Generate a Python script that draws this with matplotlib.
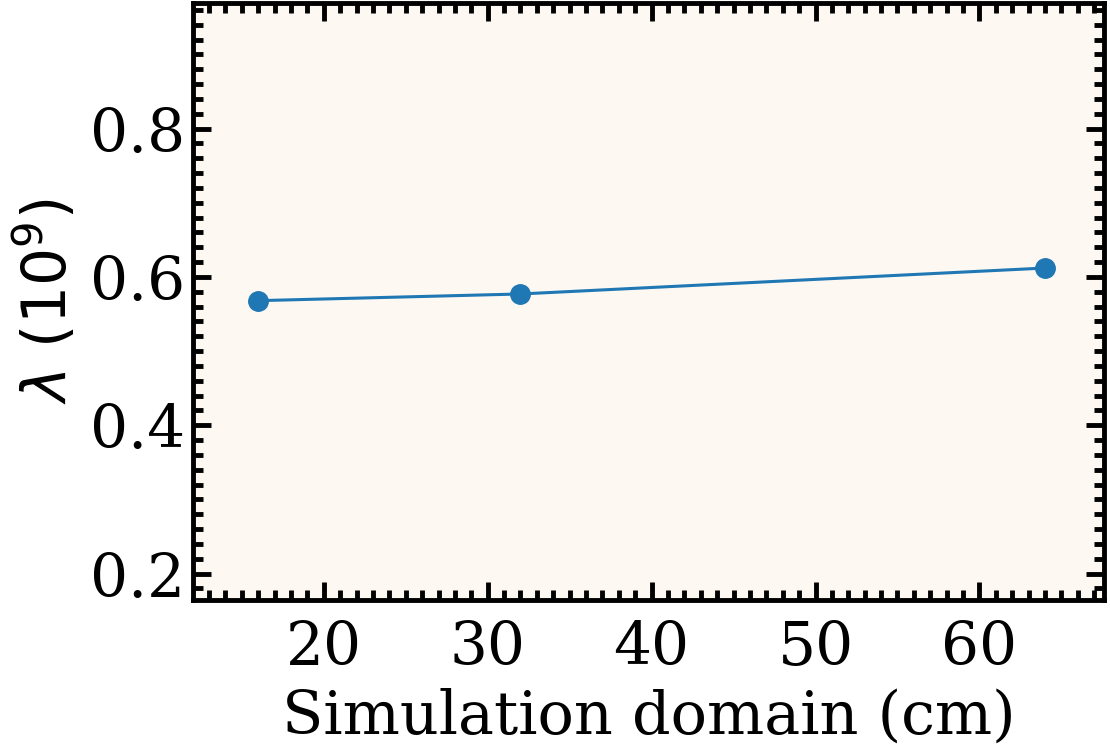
import matplotlib
matplotlib.use("Agg")
import matplotlib.pyplot as plt
from matplotlib.ticker import MultipleLocator

# simulation domain size (cm) and fitted lambda (1e9)
domain = [16, 32, 64]
lam = [0.568, 0.577, 0.612]

plt.rcParams['font.family'] = 'DejaVu Serif'
plt.rcParams['font.size'] = 43

fig = plt.figure(figsize=(11.1, 7.44), dpi=100)
ax = fig.add_axes([0.1743, 0.1942, 0.9946 - 0.1743, 0.9966 - 0.1942])
ax.set_facecolor('#fdf8f2')

ax.plot(domain, lam, '-o', color='#1f77b4', lw=2.2, markersize=14)

ax.set_xlim(12.05, 67.6)
ax.set_ylim(0.165, 0.97)
ax.xaxis.set_major_locator(MultipleLocator(10))
ax.xaxis.set_minor_locator(MultipleLocator(1))
ax.yaxis.set_major_locator(MultipleLocator(0.2))
ax.yaxis.set_minor_locator(MultipleLocator(0.02))

ax.tick_params(which='both', direction='in', top=True, right=True, width=3.5)
ax.tick_params(which='major', length=13)
ax.tick_params(which='minor', length=7)
ax.tick_params(axis='x', which='major', pad=14)
ax.tick_params(axis='y', which='major', pad=6)
for s in ax.spines.values():
    s.set_linewidth(3.5)

ax.set_xlabel('Simulation domain (cm)', labelpad=8, fontsize=43.5)
ax.set_ylabel(r'$\lambda$ $(10^9)$', labelpad=8)

fig.savefig('out.png', dpi=100)
